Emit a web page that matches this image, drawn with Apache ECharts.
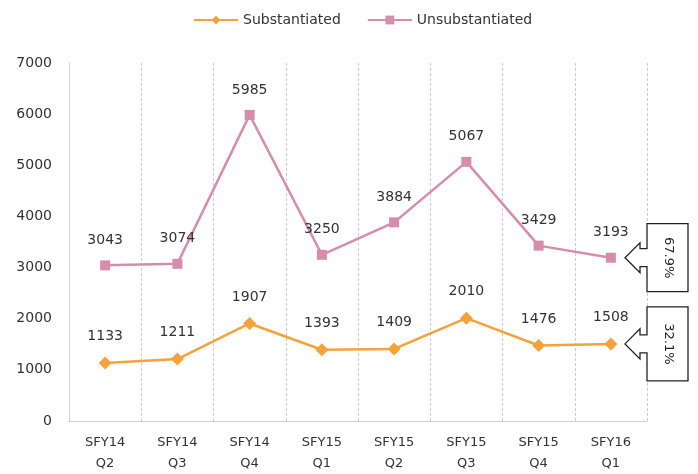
<!DOCTYPE html>
<html>
<head>
<meta charset="utf-8">
<script src="https://cdn.jsdelivr.net/npm/echarts@6/dist/echarts.min.js"></script>
<style>
  html, body { margin: 0; padding: 0; background: #fff; }
  #chart { width: 698px; height: 474px; }
</style>
</head>
<body>
<div id="chart"></div>
<script>
var quarters = ['SFY14\nQ2', 'SFY14\nQ3', 'SFY14\nQ4', 'SFY15\nQ1', 'SFY15\nQ2', 'SFY15\nQ3', 'SFY15\nQ4', 'SFY16\nQ1']
var substantiated = [1133, 1211, 1907, 1393, 1409, 2010, 1476, 1508]
var unsubstantiated = [3043, 3074, 5985, 3250, 3884, 5067, 3429, 3193]
var shareLabels = ['32.1%', '67.9%']

var fontFamily = 'DejaVu Sans'
var textColor = '#333333'

var chart = echarts.init(document.getElementById('chart'))

chart.setOption({
  animation: false,
  color: ['#f5a23c', '#d68cab'],
  textStyle: { fontFamily: fontFamily },
  legend: {
    top: 8,
    left: 188,
    itemWidth: 44,
    itemHeight: 11,
    itemGap: 26,
    textStyle: { fontSize: 14, color: textColor, fontFamily: fontFamily },
    data: ['Substantiated', 'Unsubstantiated']
  },
  grid: {
    left: 69,
    right: 51,
    top: 63,
    bottom: 48,
    containLabel: false
  },
  xAxis: {
    type: 'category',
    boundaryGap: true,
    data: quarters,
    axisLine: { lineStyle: { color: '#d0d0d0' } },
    axisTick: { show: false },
    splitLine: {
      show: true,
      interval: 0,
      lineStyle: { color: '#cccccc', type: [3, 2] }
    },
    axisLabel: {
      interval: 0,
      margin: 11,
      fontSize: 13,
      lineHeight: 21,
      color: textColor,
      fontFamily: fontFamily
    }
  },
  yAxis: {
    type: 'value',
    min: 0,
    max: 7000,
    interval: 1000,
    axisLine: { show: true, lineStyle: { color: '#d0d0d0' } },
    axisTick: { show: false },
    splitLine: { show: false },
    axisLabel: {
      margin: 17,
      fontSize: 14,
      color: textColor,
      fontFamily: fontFamily,
      formatter: function (v) { return String(v) }
    }
  },
  series: [
    {
      name: 'Substantiated',
      type: 'line',
      data: substantiated,
      symbol: 'diamond',
      symbolSize: 13,
      lineStyle: { width: 2.5 },
      label: {
        show: true,
        position: 'top',
        distance: 13,
        fontSize: 14,
        color: textColor,
        fontFamily: fontFamily
      }
    },
    {
      name: 'Unsubstantiated',
      type: 'line',
      data: unsubstantiated,
      symbol: 'rect',
      symbolSize: 10,
      lineStyle: { width: 2.5 },
      label: {
        show: true,
        position: 'top',
        distance: 13,
        fontSize: 14,
        color: textColor,
        fontFamily: fontFamily
      }
    }
  ]
})

// callout arrows with the share of the last quarter
function callout (value, text, boxHalf) {
  var last = quarters.length - 1
  var p = chart.convertToPixel({ gridIndex: 0 }, [last, value])
  var cy = p[1]
  var tip = 625
  var neck = 640
  var boxL = 647
  var boxR = 688
  var shaft = 9
  var head = 15
  return [
    {
      type: 'polygon',
      shape: {
        points: [
          [boxL, cy - boxHalf], [boxR, cy - boxHalf], [boxR, cy + boxHalf], [boxL, cy + boxHalf],
          [boxL, cy + shaft], [neck, cy + shaft], [neck, cy + head], [tip, cy],
          [neck, cy - head], [neck, cy - shaft], [boxL, cy - shaft]
        ]
      },
      style: { fill: '#fff', stroke: '#222', lineWidth: 1.3 },
      z: 10
    },
    {
      type: 'text',
      x: (boxL + boxR) / 2 + 1,
      y: cy,
      rotation: -Math.PI / 2,
      style: {
        text: text,
        fontSize: 13,
        fontFamily: fontFamily,
        fill: '#222',
        align: 'center',
        verticalAlign: 'middle'
      },
      z: 11
    }
  ]
}

var last = quarters.length - 1
chart.setOption({
  graphic: callout(unsubstantiated[last], shareLabels[1], 34)
    .concat(callout(substantiated[last], shareLabels[0], 37))
})
</script>
</body>
</html>
